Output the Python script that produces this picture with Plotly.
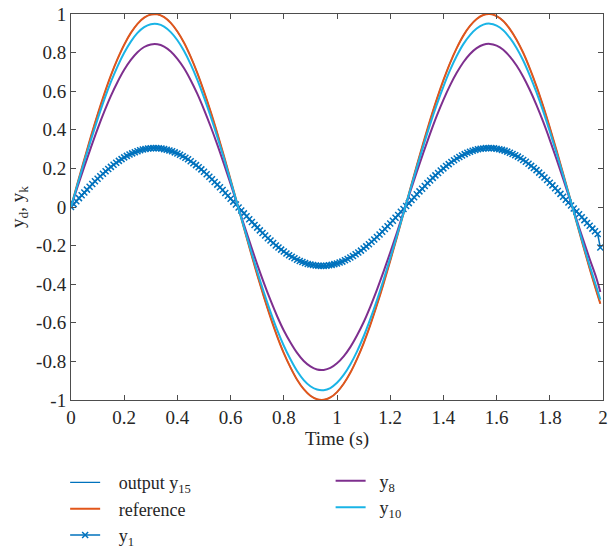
import plotly.graph_objects as go

# ---- data ----
time_line = [round(0.025 * i, 3) for i in range(80)] + [1.99]
time_y1 = [round(0.01 * i, 2) for i in range(200)]

reference = [0.000, 0.125, 0.247, 0.366, 0.479, 0.585, 0.682, 0.767, 0.841, 0.902,
             0.949, 0.981, 0.997, 0.998, 0.984, 0.954, 0.909, 0.851, 0.778, 0.694,
             0.598, 0.494, 0.382, 0.264, 0.141, 0.017, -0.108, -0.231, -0.351, -0.465,
             -0.572, -0.670, -0.757, -0.831, -0.895, -0.944, -0.978, -0.996, -0.999, -0.987,
             -0.959, -0.916, -0.859, -0.788, -0.706, -0.612, -0.508, -0.397, -0.279, -0.158,
             -0.033, 0.092, 0.215, 0.335, 0.450, 0.558, 0.657, 0.746, 0.823, 0.888,
             0.938, 0.974, 0.995, 1.000, 0.989, 0.964, 0.922, 0.867, 0.799, 0.717,
             0.625, 0.523, 0.412, 0.295, 0.174, 0.050, -0.075, -0.199, -0.320, -0.435,
             -0.501]

output_y15 = [0.000, 0.125, 0.247, 0.366, 0.479, 0.585, 0.682, 0.767, 0.841, 0.902,
              0.949, 0.981, 0.997, 0.998, 0.984, 0.954, 0.909, 0.851, 0.778, 0.694,
              0.598, 0.494, 0.382, 0.264, 0.141, 0.017, -0.108, -0.231, -0.351, -0.465,
              -0.572, -0.670, -0.757, -0.831, -0.895, -0.944, -0.978, -0.996, -0.999, -0.987,
              -0.959, -0.916, -0.859, -0.788, -0.706, -0.612, -0.508, -0.397, -0.279, -0.158,
              -0.033, 0.092, 0.215, 0.335, 0.450, 0.558, 0.657, 0.746, 0.823, 0.888,
              0.938, 0.974, 0.995, 1.000, 0.989, 0.964, 0.922, 0.867, 0.799, 0.717,
              0.625, 0.523, 0.412, 0.295, 0.174, 0.050, -0.075, -0.199, -0.320, -0.435,
              -0.500]

y10 = [0.000, 0.119, 0.235, 0.348, 0.455, 0.556, 0.648, 0.729, 0.799, 0.857,
       0.902, 0.932, 0.947, 0.948, 0.935, 0.906, 0.864, 0.808, 0.739, 0.659,
       0.568, 0.469, 0.363, 0.251, 0.134, 0.016, -0.103, -0.219, -0.333, -0.442,
       -0.543, -0.637, -0.719, -0.789, -0.850, -0.897, -0.929, -0.946, -0.949, -0.938,
       -0.911, -0.870, -0.816, -0.749, -0.671, -0.581, -0.483, -0.377, -0.265, -0.150,
       -0.031, 0.087, 0.204, 0.318, 0.428, 0.530, 0.624, 0.709, 0.782, 0.844,
       0.891, 0.925, 0.945, 0.950, 0.940, 0.916, 0.876, 0.824, 0.759, 0.681,
       0.594, 0.497, 0.391, 0.280, 0.165, 0.048, -0.071, -0.189, -0.304, -0.413,
       -0.480]

y8 = [0.000, 0.106, 0.209, 0.309, 0.405, 0.494, 0.576, 0.648, 0.711, 0.762,
      0.802, 0.829, 0.842, 0.843, 0.831, 0.806, 0.768, 0.719, 0.657, 0.586,
      0.505, 0.417, 0.323, 0.223, 0.119, 0.014, -0.091, -0.195, -0.297, -0.393,
      -0.483, -0.566, -0.640, -0.702, -0.756, -0.798, -0.826, -0.842, -0.844, -0.834,
      -0.810, -0.774, -0.726, -0.666, -0.597, -0.517, -0.429, -0.335, -0.236, -0.134,
      -0.028, 0.078, 0.182, 0.283, 0.380, 0.472, 0.555, 0.630, 0.695, 0.750,
      0.793, 0.823, 0.841, 0.845, 0.836, 0.815, 0.779, 0.733, 0.675, 0.606,
      0.528, 0.442, 0.348, 0.249, 0.147, 0.042, -0.063, -0.168, -0.270, -0.368,
      -0.440]

y1 = [0.000, 0.015, 0.030, 0.046, 0.061, 0.075, 0.090, 0.105, 0.119, 0.133,
      0.146, 0.159, 0.172, 0.185, 0.197, 0.208, 0.219, 0.229, 0.239, 0.248,
      0.257, 0.265, 0.272, 0.278, 0.284, 0.289, 0.294, 0.298, 0.301, 0.303,
      0.304, 0.305, 0.305, 0.304, 0.303, 0.300, 0.297, 0.293, 0.289, 0.283,
      0.277, 0.271, 0.263, 0.255, 0.247, 0.237, 0.227, 0.217, 0.206, 0.195,
      0.183, 0.170, 0.157, 0.144, 0.130, 0.116, 0.102, 0.088, 0.073, 0.058,
      0.043, 0.028, 0.013, -0.003, -0.018, -0.033, -0.048, -0.063, -0.078, -0.093,
      -0.107, -0.121, -0.135, -0.148, -0.162, -0.174, -0.187, -0.199, -0.210, -0.221,
      -0.231, -0.241, -0.250, -0.258, -0.266, -0.273, -0.280, -0.285, -0.290, -0.295,
      -0.298, -0.301, -0.303, -0.304, -0.305, -0.305, -0.304, -0.302, -0.300, -0.296,
      -0.293, -0.288, -0.283, -0.276, -0.269, -0.262, -0.254, -0.245, -0.236, -0.226,
      -0.215, -0.204, -0.193, -0.180, -0.168, -0.155, -0.142, -0.128, -0.114, -0.100,
      -0.085, -0.071, -0.056, -0.041, -0.025, -0.010, 0.005, 0.020, 0.036, 0.051,
      0.066, 0.081, 0.095, 0.109, 0.124, 0.137, 0.151, 0.164, 0.176, 0.189,
      0.200, 0.212, 0.222, 0.233, 0.242, 0.251, 0.259, 0.267, 0.274, 0.281,
      0.286, 0.291, 0.295, 0.299, 0.302, 0.303, 0.305, 0.305, 0.305, 0.304,
      0.302, 0.299, 0.296, 0.292, 0.287, 0.281, 0.275, 0.268, 0.261, 0.253,
      0.244, 0.234, 0.224, 0.213, 0.202, 0.191, 0.178, 0.166, 0.153, 0.140,
      0.126, 0.112, 0.097, 0.083, 0.068, 0.053, 0.038, 0.023, 0.008, -0.008,
      -0.023, -0.038, -0.053, -0.068, -0.083, -0.097, -0.112, -0.126, -0.140, -0.210]

x_ticks = [0, 0.2, 0.4, 0.6, 0.8, 1, 1.2, 1.4, 1.6, 1.8, 2]
x_tick_labels = ["0", "0.2", "0.4", "0.6", "0.8", "1", "1.2", "1.4", "1.6", "1.8", "2"]
y_ticks = [-1, -0.8, -0.6, -0.4, -0.2, 0, 0.2, 0.4, 0.6, 0.8, 1]
y_tick_labels = ["-1", "-0.8", "-0.6", "-0.4", "-0.2", "0", "0.2", "0.4", "0.6", "0.8", "1"]

# ---- styling ----
C_BLUE = "#0072BD"
C_ORANGE = "#E2561A"
C_PURPLE = "#7E2F8E"
C_CYAN = "#1AB4E6"
FONT = "Liberation Serif"
AXCOL = "#4d4d4d"
TXT = "#262626"
NB = "\u00a0"

fig = go.Figure()
fig.add_trace(go.Scatter(x=time_line, y=output_y15, mode="lines", name=NB * 3 + "output y<sub>15</sub>",
                         line=dict(color=C_BLUE, width=1.2, shape="spline"), legend="legend"))
fig.add_trace(go.Scatter(x=time_line, y=reference, mode="lines", name=NB * 3 + "reference",
                         line=dict(color=C_ORANGE, width=2, shape="spline"), legend="legend"))
fig.add_trace(go.Scatter(x=time_y1, y=y1, mode="lines+markers", name=NB * 3 + "y<sub>1</sub>",
                         line=dict(color=C_BLUE, width=1.5),
                         marker=dict(symbol="x-thin", size=6, color=C_BLUE,
                                     line=dict(color=C_BLUE, width=1.5)),
                         legend="legend"))
fig.add_trace(go.Scatter(x=time_line, y=y8, mode="lines", name=NB * 2 + "y<sub>8</sub>",
                         line=dict(color=C_PURPLE, width=2, shape="spline"), legend="legend2"))
fig.add_trace(go.Scatter(x=time_line, y=y10, mode="lines", name=NB * 2 + "y<sub>10</sub>",
                         line=dict(color=C_CYAN, width=2, shape="spline"), legend="legend2"))

axis_common = dict(showgrid=False, zeroline=False, showline=True, linecolor=AXCOL, linewidth=1,
                   mirror="ticks", ticks="inside", ticklen=5, tickcolor=AXCOL, tickwidth=1,
                   tickfont=dict(family=FONT, size=19, color=TXT))

fig.update_layout(
    width=608, height=550,
    margin=dict(l=71, r=5, t=14, b=150, autoexpand=False),
    plot_bgcolor="white", paper_bgcolor="white",
    font=dict(family=FONT, size=18, color=TXT),
    xaxis=dict(range=[0, 2], tickvals=x_ticks, ticktext=x_tick_labels,
               title=dict(text="Time (s)", font=dict(family=FONT, size=19), standoff=2),
               **axis_common),
    yaxis=dict(range=[-1, 1], tickvals=y_ticks, ticktext=y_tick_labels,
               title=dict(text="y<sub>d</sub>, y<sub>k</sub>", font=dict(family=FONT, size=19),
                          standoff=6),
               **axis_common),
    legend=dict(x=-0.011, y=-0.166, xanchor="left", yanchor="top", orientation="v",
                bgcolor="rgba(0,0,0,0)", font=dict(family=FONT, size=18, color=TXT),
                tracegroupgap=0, itemwidth=30),
    legend2=dict(x=0.488, y=-0.162, xanchor="left", yanchor="top", orientation="v",
                 bgcolor="rgba(0,0,0,0)", font=dict(family=FONT, size=18, color=TXT),
                 tracegroupgap=0, itemwidth=30),
)

fig.write_html("out.html")
